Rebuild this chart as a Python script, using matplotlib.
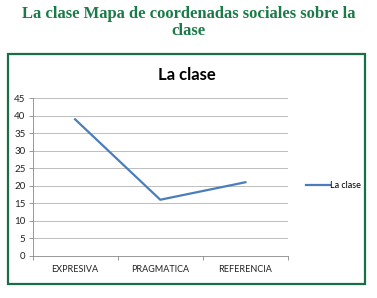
import matplotlib
matplotlib.use("Agg")
import matplotlib.pyplot as plt
from matplotlib.patches import Rectangle

categories = ["EXPRESIVA", "PRAGMATICA", "REFERENCIA"]
values = [39, 16, 21]
yticks = [0, 5, 10, 15, 20, 25, 30, 35, 40, 45]
series_name = "La clase"
header = "La clase Mapa de coordenadas sociales sobre la\nclase"
chart_title = "La clase"

W, H = 377, 298
fig = plt.figure(figsize=(W / 100, H / 100), dpi=100)

def fx(px):
    return px / W

def fy(py):
    return 1 - py / H

# header
fig.text(0.5, fy(22.5), header, ha="center", va="center", family="Liberation Serif",
         weight="bold", fontsize=12, color="#1c7a48", linespacing=1.1)

# green border box
fig.patches.append(Rectangle((fx(7.5), fy(284)), fx(365) - fx(7.5), fy(53.5) - fy(284),
                             transform=fig.transFigure, fill=False, edgecolor="#1a6e46",
                             linewidth=1.6))

ax = fig.add_axes([fx(32.5), fy(255.7), fx(288) - fx(32.5), fy(98.3) - fy(255.7)])
x = list(range(len(categories)))
ax.plot(x, values, color="#4a7ebb", linewidth=1.6, label=series_name)
ax.set_xlim(-0.5, len(categories) - 0.5)
ax.set_ylim(0, 45)
ax.set_yticks(yticks)
ax.set_yticklabels([str(v) for v in yticks], family="Lato", fontsize=7, color="#222222")
ax.set_xticks(x)
ax.set_xticklabels(categories, family="Lato", fontsize=6.5, color="#222222")
ax.tick_params(axis="x", length=0, pad=7)
ax.tick_params(axis="y", length=3, width=0.6, color="#888888", pad=2)
ax.set_xticks([i - 0.5 for i in range(len(categories) + 1)], minor=True)
ax.tick_params(axis="x", which="minor", length=3, width=0.6, color="#888888")
ax.grid(axis="y", color="#bdbdbd", linewidth=0.7)
ax.set_axisbelow(True)
for s in ["top", "right"]:
    ax.spines[s].set_visible(False)
ax.spines["left"].set_color("#888888")
ax.spines["bottom"].set_color("#888888")
ax.spines["left"].set_linewidth(0.6)
ax.spines["bottom"].set_linewidth(0.6)

fig.text(fx(187), fy(75), chart_title, ha="center", va="center", family="Lato",
         weight="bold", fontsize=12, color="#000000")

leg = fig.legend(loc="center left", bbox_to_anchor=(fx(298), fy(186)), frameon=False,
                 prop={"family": "Lato", "size": 6.5}, handlelength=2.6, handletextpad=0.1)

fig.savefig("out.png", dpi=100)
